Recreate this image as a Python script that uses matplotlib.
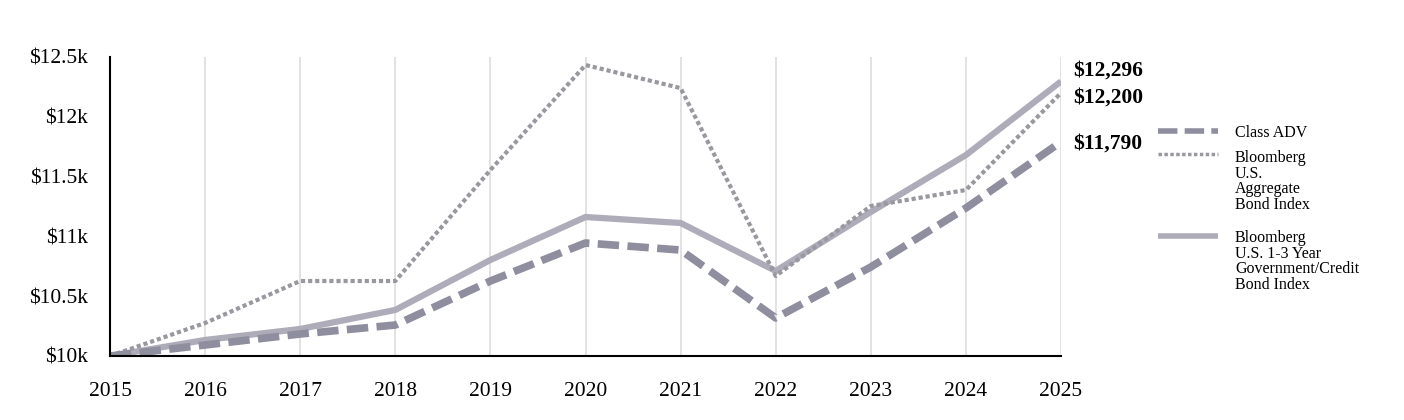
import matplotlib.pyplot as plt
from matplotlib.lines import Line2D

plt.rcParams['font.family'] = ['Liberation Serif', 'DejaVu Serif']

years = [2015, 2016, 2017, 2018, 2019, 2020, 2021, 2022, 2023, 2024, 2025]
class_adv = [10000, 10092, 10184, 10259, 10627, 10945, 10886, 10318, 10744, 11237, 11790]
agg_index = [10000, 10276, 10627, 10627, 11555, 12433, 12240, 10669, 11254, 11388, 12200]
short_index = [10000, 10134, 10226, 10385, 10803, 11162, 11112, 10711, 11204, 11680, 12296]

yticks = [10000, 10500, 11000, 11500, 12000, 12500]
ytick_labels = ["$10k", "$10.5k", "$11k", "$11.5k", "$12k", "$12.5k"]

names = ["Class ADV", "Bloomberg\nU.S.\nAggregate\nBond Index",
         "Bloomberg\nU.S. 1-3 Year\nGovernment/Credit\nBond Index"]
end_labels = ["$11,790", "$12,200", "$12,296"]

c_adv = "#8f8e9e"
c_agg = "#99989f"
c_short = "#adacb8"

W, H = 1404, 420
fig = plt.figure(figsize=(W / 100, H / 100), dpi=100)
ax = fig.add_axes([110 / W, 64 / H, 951 / W, 299 / H])

ax.plot(years, short_index, color=c_short, lw=4.5, solid_capstyle="butt", zorder=3)
ax.plot(years, agg_index, color=c_agg, lw=3, linestyle=(0, (1, 0.7)), zorder=4)
ax.plot(years, class_adv, color=c_adv, lw=5.5, linestyle=(0, (2.8, 1.1)), zorder=5)

ax.set_xlim(2015, 2025)
ax.set_ylim(10000, 12500)
ax.set_xticks(years)
ax.set_xticklabels([str(y) for y in years], fontsize=15.5)
ax.set_yticks(yticks)
ax.set_yticklabels(ytick_labels, fontsize=15.5)
ax.tick_params(axis="both", length=0)
ax.tick_params(axis="x", pad=19)
ax.tick_params(axis="y", pad=16)
ax.grid(axis="x", color="#dddddd", lw=1.2)
ax.set_axisbelow(True)
for s in ["top", "right"]:
    ax.spines[s].set_visible(False)
for s in ["left", "bottom"]:
    ax.spines[s].set_linewidth(1.5)
    ax.spines[s].set_zorder(6)

# end-of-line value labels
series_end = [class_adv[-1], agg_index[-1], short_index[-1]]
offsets = [-1.5, -3.5, 7.5]
for val, lab, dy in zip(series_end, end_labels, offsets):
    ax.annotate(lab, xy=(2025, val), xytext=(9, dy), textcoords="offset points",
                fontsize=15.5, fontweight="bold", va="center", annotation_clip=False)

# legend, handles aligned with first text line
leg_styles = [dict(color=c_adv, lw=4, linestyle=(0, (3.5, 1.3))),
              dict(color=c_agg, lw=2.5, linestyle=(0, (1, 0.7))),
              dict(color=c_short, lw=4, solid_capstyle="butt")]
leg_y = [131, 154, 236]
text_y = [131, 156, 236]
for name, st, y, ty in zip(names, leg_styles, leg_y, text_y):
    fig.add_artist(Line2D([1158 / W, 1218 / W], [1 - y / H, 1 - y / H], **st))
    fig.text(1235 / W, 1 - (ty - 6) / H, name, fontsize=11.5, va="top", ha="left",
             linespacing=0.97)

fig.savefig("out.png", dpi=100)
